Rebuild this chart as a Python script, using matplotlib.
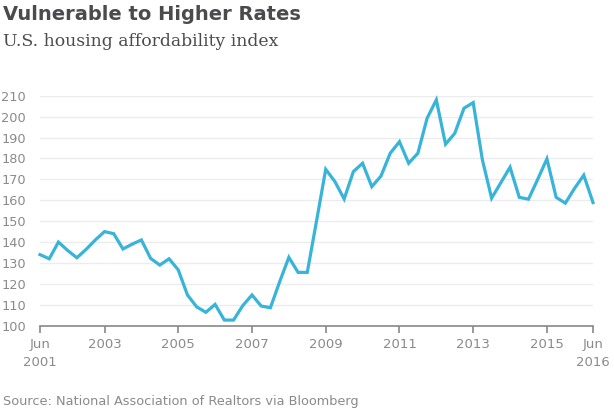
import matplotlib.pyplot as plt

# quarterly affordability index, Jun 2001 .. Jun 2016
values = [134, 132, 140, 136, 132.5, 136.5, 141, 145, 144, 136.7,
          139, 141, 132.2, 129, 132, 126.7, 114.7, 109, 106.4, 110.2,
          102.7, 102.7, 109.6, 114.7, 109.4, 108.6, 121, 132.7, 125.5, 125.5,
          150, 174.8, 168.9, 160.6, 173.7, 177.7, 166.5, 171.6, 182.5, 188,
          177.7, 182.5, 199.2, 208, 186.8, 192, 204, 206.7, 179.3, 161,
          168.4, 175.8, 161.4, 160.5, 170, 179.8, 161.4, 158.6, 165.7, 172,
          158.9]
tick_idx = [0, 7, 15, 23, 31, 39, 47, 55, 60]
tick_labels = ["Jun\n2001", "2003", "2005", "2007", "2009", "2011", "2013", "2015", "Jun\n2016"]
y_ticks = list(range(100, 211, 10))

fig = plt.figure(figsize=(6.14, 4.09), dpi=100)
ax = fig.add_axes([40/614, 1-325.7/409, (593-40)/614, 230/409])

ax.plot(range(len(values)), values, color="#38b4d8", lw=2.3, clip_on=False,
        solid_joinstyle="miter", zorder=3)

ax.set_xlim(0, 60)
ax.set_ylim(100, 210)
ax.set_yticks(y_ticks)
ax.set_xticks(tick_idx)
ax.set_xticklabels(tick_labels, linespacing=1.5)
ax.grid(axis="y", color="#ececec", lw=1)
for s in ["top", "right", "left"]:
    ax.spines[s].set_visible(False)
ax.spines["bottom"].set_color("#888888")
ax.spines["bottom"].set_linewidth(1.2)
ax.tick_params(axis="y", length=0, pad=10, labelsize=9.3, labelcolor="#8a8a8a")
ax.tick_params(axis="x", length=5, width=1.2, color="#888888", pad=4,
               labelsize=9.5, labelcolor="#8a8a8a")
ax.set_axisbelow(True)

fig.text(3/614, 1-15/409, "Vulnerable to Higher Rates", fontsize=14,
         fontweight="bold", color="#4b4b4d", va="center")
fig.text(3/614, 1-42/409, "U.S. housing affordability index", fontsize=12.4,
         color="#4b4b4d", family="DejaVu Serif", va="center")
fig.text(3/614, 1-401/409, "Source: National Association of Realtors via Bloomberg",
         fontsize=9.25, color="#8a8a8a", va="center")

fig.savefig("out.png", dpi=100)
